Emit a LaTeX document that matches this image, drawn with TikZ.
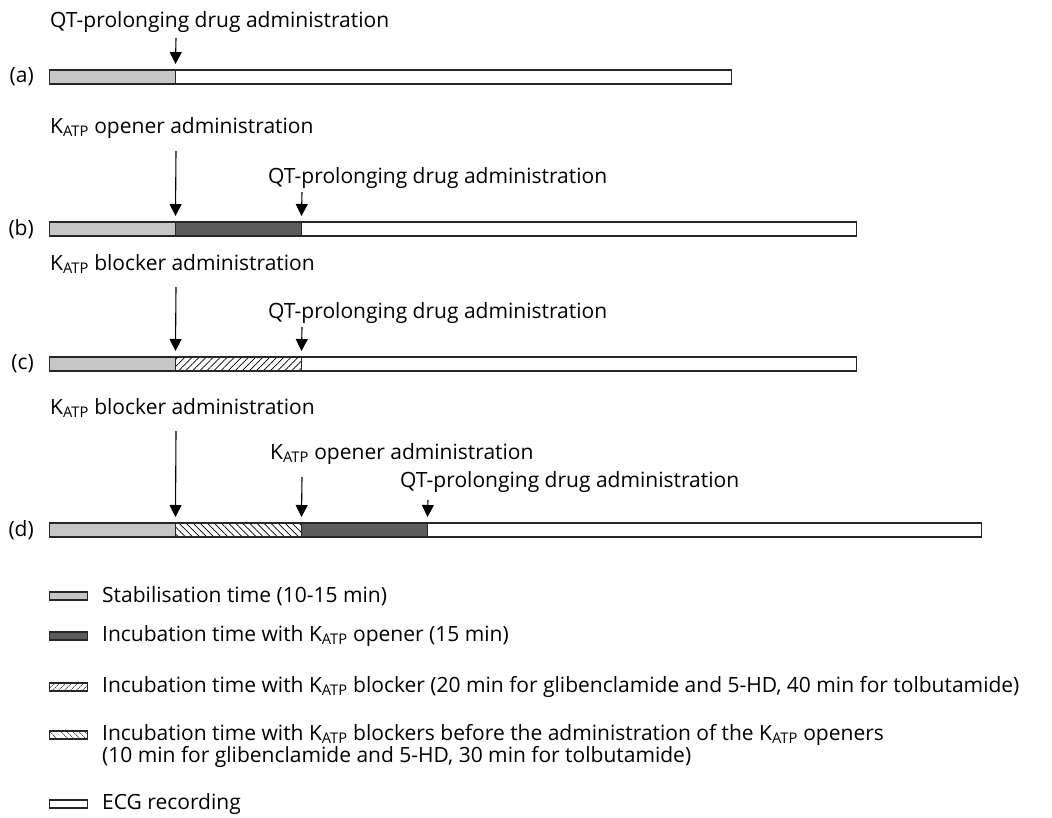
\documentclass[tikz,border=0pt]{standalone}
\usepackage{fontspec}
\setmainfont{Open Sans}
\usetikzlibrary{arrows.meta, patterns.meta}
\definecolor{stabgray}{HTML}{C6C6C6}
\definecolor{incgray}{HTML}{5C5C5C}

\begin{document}
\begin{tikzpicture}[x=1pt, y=-1pt,
    font=\fontsize{21}{22.5}\selectfont,
    seg/.style={rectangle, draw=black!85, line width=1.1pt, minimum width=126, minimum height=14, inner sep=0, outer sep=0, anchor=west},
    stab/.style={seg, fill=stabgray},
    opener/.style={seg, fill=incgray},
    blocker/.style={seg, pattern={Lines[angle=45, distance=5pt, line width=0.7pt]}},
    preblock/.style={seg, pattern={Lines[angle=-45, distance=5pt, line width=0.7pt]}},
    ecg/.style={seg, fill=white},
    key/.style={minimum width=38, minimum height=8},
    lbl/.style={anchor=west, inner sep=0},
    tag/.style={anchor=east, inner sep=0},
    arrow/.style={-{Triangle[width=12pt, length=12pt]}, line width=1.1pt}
  ]
  \useasboundingbox (0,0) rectangle (1052,818);

  % (a)
  \node[lbl] (qa) at (50,22) {QT-prolonging drug administration};
  \node[tag] (ta) at (34,77) {(a)};
  \node[stab] (a1) at (49.5,77) {};
  \node[ecg, minimum width=556] (a2) at (a1.east) {};
  \coordinate (qa-tail) at (176,38);
  \draw[arrow] (qa-tail) -- ([yshift=6pt]a1.north east);

  % (b)
  \node[lbl] (kb) at (50,128) {K\textsubscript{ATP} opener administration};
  \node[lbl] (qb) at (268,178) {QT-prolonging drug administration};
  \node[tag] (tb) at (34,229) {(b)};
  \node[stab] (b1) at (49.5,229) {};
  \node[opener] (b2) at (b1.east) {};
  \node[ecg, minimum width=555] (b3) at (b2.east) {};
  \coordinate (kb-tail) at (176,151);
  \coordinate (qb-tail) at (302,192);
  \draw[arrow] (kb-tail) -- ([yshift=6pt]b1.north east);
  \draw[arrow] (qb-tail) -- ([yshift=6pt]b2.north east);

  % (c)
  \node[lbl] (kc) at (50,264) {K\textsubscript{ATP} blocker administration};
  \node[lbl] (qc) at (268,313) {QT-prolonging drug administration};
  \node[tag] (tc) at (34,364) {(c)};
  \node[stab] (c1) at (49.5,364) {};
  \node[blocker] (c2) at (c1.east) {};
  \node[ecg, minimum width=555] (c3) at (c2.east) {};
  \coordinate (kc-tail) at (176,287);
  \coordinate (qc-tail) at (302,327);
  \draw[arrow] (kc-tail) -- ([yshift=6pt]c1.north east);
  \draw[arrow] (qc-tail) -- ([yshift=6pt]c2.north east);

  % (d)
  \node[lbl] (kd) at (50,408) {K\textsubscript{ATP} blocker administration};
  \node[lbl] (od) at (270,454) {K\textsubscript{ATP} opener administration};
  \node[lbl] (qd) at (400,482) {QT-prolonging drug administration};
  \node[tag] (td) at (34,530) {(d)};
  \node[stab] (d1) at (49.5,530) {};
  \node[preblock] (d2) at (d1.east) {};
  \node[opener] (d3) at (d2.east) {};
  \node[ecg, minimum width=554] (d4) at (d3.east) {};
  \coordinate (kd-tail) at (176,431);
  \coordinate (od-tail) at (302,477);
  \coordinate (qd-tail) at (428,500);
  \draw[arrow] (kd-tail) -- ([yshift=6pt]d1.north east);
  \draw[arrow] (od-tail) -- ([yshift=6pt]d2.north east);
  \draw[arrow] (qd-tail) -- ([yshift=6pt]d3.north east);

  % legend
  \node[stab, key] (l1) at (49.5,596) {};
  \node[lbl] (l1t) at (102,596) {Stabilisation time (10-15 min)};
  \node[opener, key] (l2) at (49.5,636) {};
  \node[lbl] (l2t) at (102,636) {Incubation time with K\textsubscript{ATP} opener (15 min)};
  \node[blocker, key, pattern={Lines[angle=45, distance=4pt, line width=0.6pt]}] (l3) at (49.5,687) {};
  \node[lbl] (l3t) at (102,687) {Incubation time with K\textsubscript{ATP} blocker (20 min for glibenclamide and 5-HD, 40 min for tolbutamide)};
  \node[preblock, key, pattern={Lines[angle=-45, distance=4pt, line width=0.6pt]}] (l4) at (49.5,735) {};
  \node[lbl, align=left] (l4t) at (102,746) {Incubation time with K\textsubscript{ATP} blockers before the administration of the K\textsubscript{ATP} openers\\(10 min for glibenclamide and 5-HD, 30 min for tolbutamide)};
  \node[ecg, key] (l5) at (49.5,804) {};
  \node[lbl] (l5t) at (102,804) {ECG recording};
\end{tikzpicture}
\end{document}
